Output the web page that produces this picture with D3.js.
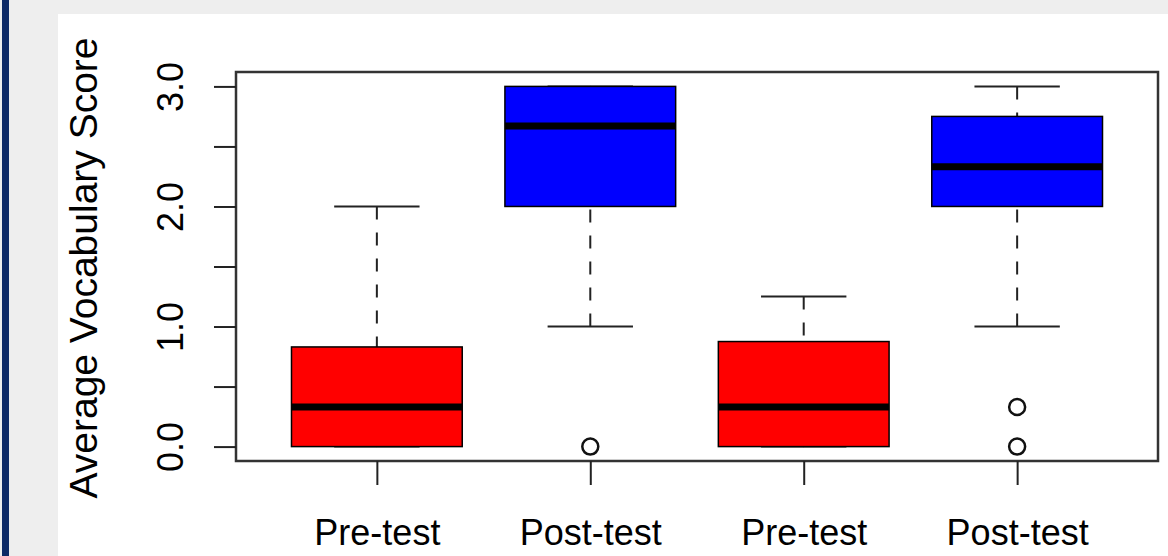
<!DOCTYPE html>
<html>
<head>
<meta charset="utf-8">
<script src="https://cdn.jsdelivr.net/npm/d3@7"></script>
<style>
  body { margin: 0; background: #eeeeee; }
  svg { display: block; }
  text { font-family: 'Liberation Sans', Arial, sans-serif; fill: #000; }
</style>
</head>
<body>
<script>

var width = 1168,
    height = 556;

// data
var groups = ['Pre-test', 'Post-test', 'Pre-test', 'Post-test'];
var lowWhisker = [0, 1, 0, 1];
var q1 = [0, 2, 0, 2];
var medians = [0.33, 2.67, 0.33, 2.33];
var q3 = [0.83, 3, 0.875, 2.75];
var highWhisker = [2, 3, 1.25, 3];
var outliers = [[], [0], [], [0.33, 0]];

var yTickValues = [0, 0.5, 1, 1.5, 2, 2.5, 3];
var yTickLabels = ['0.0', '', '1.0', '', '2.0', '', '3.0'];
var yTitle = 'Average Vocabulary Score';

var colors = ['#ff0000', '#0000ff', '#ff0000', '#0000ff'];

var svg = d3.select('body')
    .append('svg')
    .attr('width', width)
    .attr('height', height);

// page furniture
svg.append('rect')
    .attr('x', 0).attr('y', 0)
    .attr('width', width).attr('height', height)
    .style('fill', '#eeeeee');

svg.append('rect')
    .attr('x', 2).attr('y', 0)
    .attr('width', 7).attr('height', height)
    .style('fill', '#0e2a66');

svg.append('rect')
    .attr('x', 58).attr('y', 14)
    .attr('width', width - 58).attr('height', height - 14)
    .style('fill', '#ffffff');

var x = d3.scaleLinear()
    .domain([0.34, 4.66])
    .range([236, 1158]);

var y = d3.scaleLinear()
    .domain([-0.12, 3.12])
    .range([461, 72]);

var boxW = x(1.4) - x(0.6);
var capW = boxW / 2;

var data = groups.map(function(g, i) {
    return {
        pos: i + 1,
        name: g,
        lo: lowWhisker[i],
        q1: q1[i],
        med: medians[i],
        q3: q3[i],
        hi: highWhisker[i],
        out: outliers[i],
        color: colors[i]
    };
});

var boxes = svg.selectAll('g.box')
    .data(data)
    .enter()
    .append('g')
    .classed('box', true);

// whiskers, drawn from the staple toward the box
boxes.append('line')
    .attr('x1', function(d) { return x(d.pos); })
    .attr('x2', function(d) { return x(d.pos); })
    .attr('y1', function(d) { return y(d.hi); })
    .attr('y2', function(d) { return y(d.q3); })
    .style('stroke', '#222')
    .style('stroke-width', 2)
    .style('stroke-dasharray', '13,13');

boxes.append('line')
    .attr('x1', function(d) { return x(d.pos); })
    .attr('x2', function(d) { return x(d.pos); })
    .attr('y1', function(d) { return y(d.lo); })
    .attr('y2', function(d) { return y(d.q1); })
    .style('stroke', '#222')
    .style('stroke-width', 2)
    .style('stroke-dasharray', '13,13');

// staples
['hi', 'lo'].forEach(function(k) {
    boxes.append('line')
        .attr('x1', function(d) { return x(d.pos) - capW / 2; })
        .attr('x2', function(d) { return x(d.pos) + capW / 2; })
        .attr('y1', function(d) { return y(d[k]); })
        .attr('y2', function(d) { return y(d[k]); })
        .style('stroke', '#222')
        .style('stroke-width', 2);
});

boxes.append('rect')
    .attr('x', function(d) { return x(d.pos) - boxW / 2; })
    .attr('y', function(d) { return y(d.q3); })
    .attr('width', boxW)
    .attr('height', function(d) { return y(d.q1) - y(d.q3); })
    .style('fill', function(d) { return d.color; })
    .style('stroke', '#000')
    .style('stroke-width', 1.5);

boxes.append('line')
    .attr('x1', function(d) { return x(d.pos) - boxW / 2; })
    .attr('x2', function(d) { return x(d.pos) + boxW / 2; })
    .attr('y1', function(d) { return y(d.med); })
    .attr('y2', function(d) { return y(d.med); })
    .style('stroke', '#000')
    .style('stroke-width', 7);

boxes.selectAll('circle')
    .data(function(d) { return d.out.map(function(v) { return {pos: d.pos, v: v}; }); })
    .enter()
    .append('circle')
    .attr('cx', function(d) { return x(d.pos); })
    .attr('cy', function(d) { return y(d.v); })
    .attr('r', 8)
    .style('fill', 'none')
    .style('stroke', '#111')
    .style('stroke-width', 2.5);

// frame
svg.append('rect')
    .attr('x', x.range()[0])
    .attr('y', y.range()[1])
    .attr('width', x.range()[1] - x.range()[0])
    .attr('height', y.range()[0] - y.range()[1])
    .style('fill', 'none')
    .style('stroke', '#333')
    .style('stroke-width', 2.5);

// y axis
var yAxis = svg.append('g')
    .attr('transform', 'translate(' + x.range()[0] + ',0)')
    .call(d3.axisLeft(y)
        .tickValues(yTickValues)
        .tickSize(22)
        .tickFormat(function(d, i) { return yTickLabels[i]; }));

yAxis.select('.domain').remove();
yAxis.selectAll('line').style('stroke', '#222').style('stroke-width', 2);
yAxis.selectAll('text')
    .attr('x', null).attr('dy', null)
    .attr('transform', 'translate(-53,0) rotate(-90)')
    .attr('text-anchor', 'middle')
    .style('font-size', '36px')
    .style('font-family', "'Liberation Sans', Arial, sans-serif")
    .style('fill', '#000');

// x axis
var xAxis = svg.append('g')
    .attr('transform', 'translate(0,' + y.range()[0] + ')')
    .call(d3.axisBottom(x)
        .tickValues(data.map(function(d) { return d.pos; }))
        .tickSize(24)
        .tickFormat(function(d) { return groups[d - 1]; }));

xAxis.select('.domain').remove();
xAxis.selectAll('line').style('stroke', '#222').style('stroke-width', 2);
xAxis.selectAll('text')
    .attr('y', 84).attr('dy', null)
    .style('font-size', '36px')
    .style('font-family', "'Liberation Sans', Arial, sans-serif")
    .style('fill', '#000');

svg.append('text')
    .attr('transform', 'translate(97,' + 268 + ') rotate(-90)')
    .attr('text-anchor', 'middle')
    .style('font-size', '39px')
    .text(yTitle);

</script>
</body>
</html>
